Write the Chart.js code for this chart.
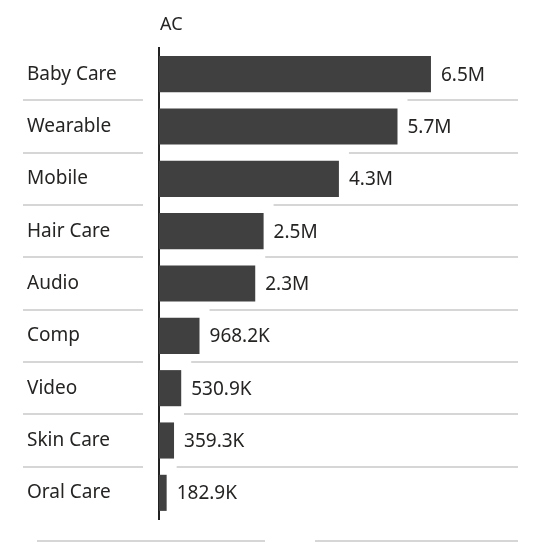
<!DOCTYPE html>
<html>
<head>
<meta charset="utf-8">
<script src="https://cdn.jsdelivr.net/npm/chart.js@4.4.1/dist/chart.umd.min.js"></script>
<style>
  html, body { margin: 0; padding: 0; background: #fff; }
  #wrap { width: 560px; height: 560px; position: relative; }
</style>
</head>
<body>
<div id="wrap"><canvas id="c" width="560" height="560"></canvas></div>
<script>
const categories = ['Baby Care', 'Wearable', 'Mobile', 'Hair Care', 'Audio', 'Comp', 'Video', 'Skin Care', 'Oral Care'];
const acValues = [6500000, 5700000, 4300000, 2500000, 2300000, 968200, 530900, 359300, 182900];
const valueLabels = ['6.5M', '5.7M', '4.3M', '2.5M', '2.3M', '968.2K', '530.9K', '359.3K', '182.9K'];

const FONT = '"Noto Sans", "Open Sans", sans-serif';
const INK = '#252423';
const SEP = '#d6d6d6';

// separators, value labels, title, bottom rules
const decor = {
  id: 'decor',
  afterDatasetsDraw(chart) {
    const { ctx, chartArea } = chart;
    const x = chart.scales.x, y = chart.scales.y;
    ctx.save();
    ctx.strokeStyle = SEP;
    ctx.lineWidth = 2;
    for (let i = 1; i < categories.length; i++) {
      const yy = Math.round((y.getPixelForValue(i - 1) + y.getPixelForValue(i)) / 2);
      ctx.beginPath();
      ctx.moveTo(23, yy); ctx.lineTo(143, yy);
      ctx.moveTo(x.getPixelForValue(acValues[i]) + 10, yy); ctx.lineTo(chartArea.right, yy);
      ctx.stroke();
    }
    ctx.beginPath();
    ctx.moveTo(37, 541); ctx.lineTo(265, 541);
    ctx.moveTo(315, 541); ctx.lineTo(518, 541);
    ctx.stroke();

    ctx.fillStyle = INK;
    ctx.font = '19px ' + FONT;
    ctx.textBaseline = 'middle';
    ctx.textAlign = 'left';
    acValues.forEach((v, i) => {
      ctx.fillText(valueLabels[i], x.getPixelForValue(v) + 10, y.getPixelForValue(i) + 1);
    });
    ctx.font = '18px ' + FONT;
    ctx.fillText('AC', 160, 25);
    ctx.restore();
  }
};

new Chart(document.getElementById('c'), {
  type: 'bar',
  data: {
    labels: categories,
    datasets: [{
      data: acValues,
      backgroundColor: '#404040',
      categoryPercentage: 0.69,
      barPercentage: 1
    }]
  },
  options: {
    indexAxis: 'y',
    responsive: false,
    animation: false,
    layout: { padding: { left: 27, right: 42, top: 48, bottom: 41 } },
    plugins: { legend: { display: false }, tooltip: { enabled: false } },
    scales: {
      x: {
        display: false,
        min: 0,
        max: 8580000
      },
      y: {
        grid: { display: false },
        border: { display: true, color: '#222', width: 2 },
        afterFit(scale) { scale.width = 132; },
        ticks: {
          crossAlign: 'far',
          padding: 0,
          color: INK,
          font: { family: FONT, size: 19 }
        }
      }
    }
  },
  plugins: [decor]
});
</script>
</body>
</html>
